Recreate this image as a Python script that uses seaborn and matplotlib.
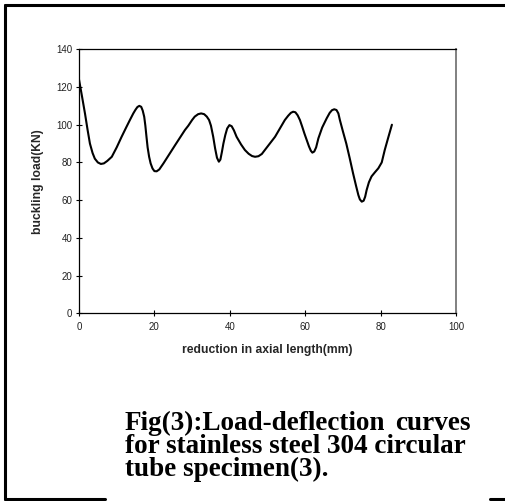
import matplotlib
matplotlib.use("Agg")
import matplotlib.pyplot as plt
import seaborn as sns
import pandas as pd
from matplotlib.lines import Line2D

# values
reduction_mm = [0, 0.8, 1.6, 2.3, 2.9, 3.6, 4.2, 5.0, 5.8, 6.6, 7.5, 8.7, 10.0, 11.3, 12.5, 13.5,
                14.4, 15.0, 15.5, 16.0, 16.5, 16.9, 17.3, 17.6, 17.9, 18.2, 18.6, 19.0, 19.5, 20.0,
                20.6, 21.3, 22.4, 25.5, 28.1, 29.0, 30.0, 30.7, 31.6, 32.4, 33.2, 33.9, 34.5, 35.0,
                35.6, 36.1, 36.6, 37.1, 37.5, 37.9, 38.3, 38.8, 39.3, 39.9, 40.5, 41.1, 41.8, 43.0,
                44.0, 45.0, 45.9, 46.7, 47.6, 48.5, 49.3, 52.0, 54.6, 55.5, 56.2, 56.8, 57.4, 58.0,
                58.6, 59.2, 59.8, 60.4, 61.0, 61.5, 61.9, 62.4, 62.9, 63.5, 64.5, 65.7, 66.5, 67.1,
                67.7, 68.3, 68.8, 69.2, 70.0, 70.9, 71.8, 72.7, 73.5, 74.1, 74.5, 75.0, 75.5, 75.9,
                76.3, 76.9, 77.6, 78.5, 79.4, 80.3, 81.1, 82.0, 83.0]
buckling_kn = [124, 115, 105.8, 97, 90, 85, 82, 80, 79.2, 79.5, 80.8, 83, 88, 93.6, 98.5, 102.5,
               106, 108, 109.4, 110, 109.5, 107.5, 104.2, 99.5, 93.6, 88, 83, 79.5, 76.8, 75.4,
               75.3, 76.3, 79.5, 89.2, 97.2, 99.5, 102.5, 104.3, 105.6, 106, 105.6, 104.3, 102.5, 99.5,
               93.6, 87.5, 82.5, 80.4, 81.5, 85.5, 90, 94.5, 98, 99.8, 99.2, 97, 93.6, 89.5,
               86.6, 84.6, 83.4, 83, 83.3, 84.5, 86.6, 93.6, 102.5, 104.8, 106.3, 106.9, 106.6, 105,
               102.5, 99, 95.3, 91.9, 88.5, 86.2, 85.2, 85.8, 88, 92.8, 98.5, 103.4, 106.3, 107.7,
               108.2, 107.8, 106, 102.5, 96.5, 90, 82.3, 74.2, 67.5, 62.7, 60.4, 59.2, 59.7, 61.8,
               65.4, 69.5, 72.6, 74.8, 76.9, 80, 86.6, 93, 100]

x_ticks = [0, 20, 40, 60, 80, 100]
y_ticks = [0, 20, 40, 60, 80, 100, 120, 140]
x_label = "reduction in axial length(mm)"
y_label = "buckling load(KN)"
caption_lines = ["Fig(3):Load-deflection", "curves", "for stainless steel 304 circular", "tube specimen(3)."]

df = pd.DataFrame({"x": reduction_mm, "y": buckling_kn})

sns.set_theme(style="white")
plt.rcParams["font.family"] = ["Liberation Sans", "DejaVu Sans"]

fig = plt.figure(figsize=(5.06, 5.01), dpi=100)
ax = fig.add_axes([79 / 506, 1 - 313.3 / 501, (456 - 79) / 506, (313.3 - 49.3) / 501])

sns.lineplot(data=df, x="x", y="y", sort=False, color="black", linewidth=1.5, ax=ax, estimator=None)

ax.set_xlim(0, 100)
ax.set_ylim(0, 140)
ax.set_xticks(x_ticks)
ax.set_yticks(y_ticks)
ax.tick_params(axis="both", which="major", bottom=True, left=True, top=False, right=False,
               direction="inout", length=4.5, width=0.8, labelsize=7, color="black",
               labelcolor="#222222")
ax.tick_params(axis="x", pad=4)
ax.tick_params(axis="y", pad=2.5)
ax.set_xlabel(x_label, fontsize=8.7, fontweight="bold", labelpad=9)
ax.set_ylabel(y_label, fontsize=8.7, fontweight="bold", labelpad=9)

for s in ["left", "bottom", "top"]:
    ax.spines[s].set_color("black")
    ax.spines[s].set_linewidth(0.9)
ax.spines["right"].set_color("#808080")
ax.spines["right"].set_linewidth(1.4)
for s in ax.spines.values():
    s.set_visible(True)

# page frame
def fline(xs, ys, lw=2.2):
    fig.add_artist(Line2D([v / 506 for v in xs], [1 - v / 501 for v in ys], color="black",
                          linewidth=lw, transform=fig.transFigure))

fline([5, 506], [4.5, 4.5])
fline([5, 5], [4.5, 499])
fline([5, 105], [499, 499])
fline([490, 506], [499, 499])

serif = ["Liberation Serif", "DejaVu Serif"]
cap_kw = dict(fontsize=19.5, fontweight="bold", family=serif, color="black", va="baseline")
fig.text(125 / 506, 1 - 430 / 501, caption_lines[0], ha="left", **cap_kw)
fig.text(471 / 506, 1 - 430 / 501, caption_lines[1], ha="right", **cap_kw)
fig.text(125 / 506, 1 - 453 / 501, caption_lines[2], ha="left", **cap_kw)
fig.text(125 / 506, 1 - 476 / 501, caption_lines[3], ha="left", **cap_kw)

fig.savefig("out.png", dpi=100, facecolor="white")
